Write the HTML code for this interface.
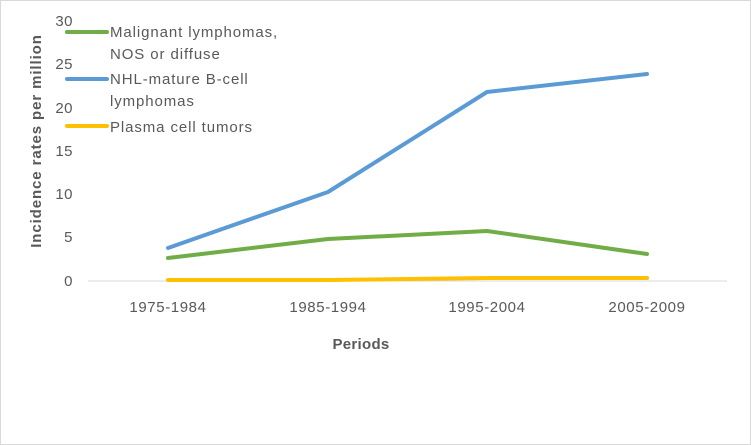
<!DOCTYPE html><html><head><style>body{margin:0;background:#fff}svg{display:block}text{font-family:"Liberation Sans",sans-serif;fill:#595959}</style></head><body>
<svg width="751" height="445" viewBox="0 0 751 445">
<rect x="0.5" y="0.5" width="750" height="444" fill="#fff" stroke="#d9d9d9"/>
<line x1="88" y1="281" x2="727" y2="281" stroke="#d9d9d9"/>
<g font-size="15" text-anchor="end" letter-spacing="0.5">
<text x="73" y="286">0</text><text x="73" y="242">5</text><text x="73" y="199">10</text><text x="73" y="156">15</text><text x="73" y="113">20</text><text x="73" y="69">25</text><text x="73" y="26">30</text></g>
<g font-size="15" text-anchor="middle" letter-spacing="0.6">
<text x="168" y="312">1975-1984</text><text x="328" y="312">1985-1994</text><text x="487" y="312">1995-2004</text><text x="647" y="312">2005-2009</text>
<text x="361" y="349" font-weight="bold" letter-spacing="0.3">Periods</text>
<text transform="translate(41,141) rotate(-90)" font-weight="bold" letter-spacing="0.9">Incidence rates per million</text></g>
<g fill="none" stroke-width="4" stroke-linecap="round" stroke-linejoin="round">
<polyline stroke="#FFC000" points="168,280 328,280 487,278 647,278"/>
<polyline stroke="#70AD47" points="168,258 328,239 487,231 647,254"/>
<polyline stroke="#5B9BD5" points="168,248 328,192 487,92 647,74"/>
<line stroke="#70AD47" x1="67" y1="32" x2="107" y2="32"/>
<line stroke="#5B9BD5" x1="67" y1="79" x2="107" y2="79"/>
<line stroke="#FFC000" x1="67" y1="126" x2="107" y2="126"/></g>
<g font-size="15" fill="#595959" letter-spacing="0.9"><text x="110" y="37">Malignant lymphomas,</text><text x="110" y="59">NOS or diffuse</text><text x="110" y="84">NHL-mature B-cell</text><text x="110" y="106">lymphomas</text><text x="110" y="132">Plasma cell tumors</text></g>
</svg></body></html>
